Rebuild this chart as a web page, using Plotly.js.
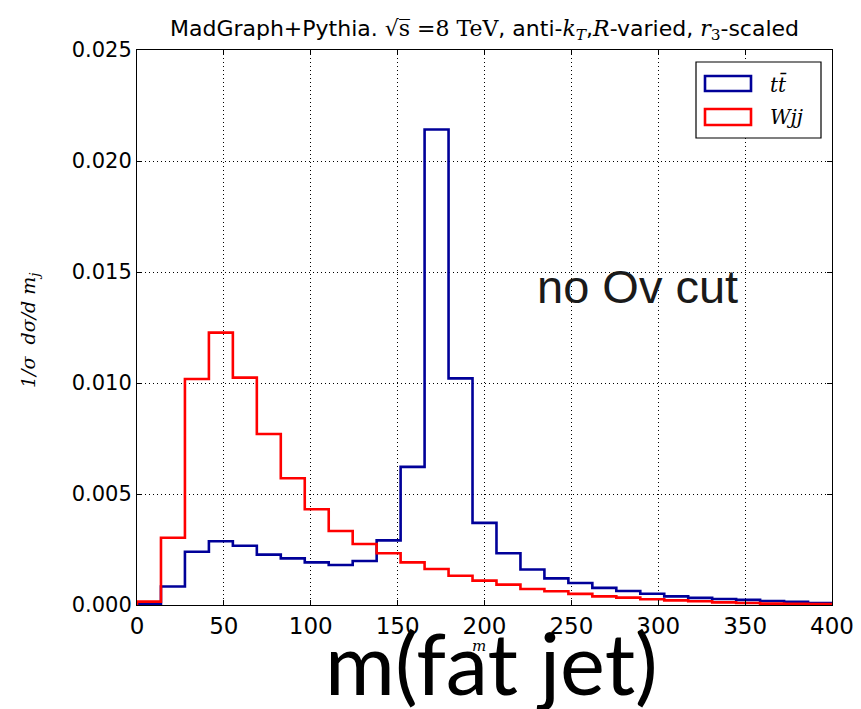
<!DOCTYPE html>
<html>
<head>
<meta charset="utf-8">
<script src="https://cdn.plot.ly/plotly-3.0.1.min.js"></script>
<style>html,body{margin:0;padding:0;background:#fff;}#chart{width:861px;height:709px;}</style>
</head>
<body>
<div id="chart"></div>
<script>
// Histogram binning of the fat-jet mass (GeV)
const massRange = [0, 400];
const nBins = 29;

// Normalised distributions (1/sigma dsigma/dm_j), one value per bin
const ttbarValues = [0.00005, 0.00083, 0.00240, 0.00287, 0.00267, 0.00227, 0.00210, 0.00192, 0.00180, 0.00198,
                     0.00291, 0.00622, 0.02142, 0.01021, 0.00370, 0.00233, 0.00160, 0.00120, 0.00099, 0.00077,
                     0.00063, 0.00051, 0.00039, 0.00032, 0.00027, 0.00023, 0.00018, 0.00014, 0.00009];
const wjjValues   = [0.00015, 0.00303, 0.01018, 0.01227, 0.01024, 0.00770, 0.00571, 0.00431, 0.00333, 0.00275,
                     0.00233, 0.00192, 0.00162, 0.00132, 0.00110, 0.00092, 0.00072, 0.00062, 0.00050, 0.00039,
                     0.00033, 0.00026, 0.00021, 0.00017, 0.00012, 0.00009, 0.00006, 0.00005, 0.00004];

const seriesNames = ['tt\u0304', 'Wjj'];
const xTickVals = [0, 50, 100, 150, 200, 250, 300, 350, 400];
const yTickVals = [0.000, 0.005, 0.010, 0.015, 0.020, 0.025];

const binEdges = [];
for (let i = 0; i <= nBins; i++) binEdges.push(massRange[0] + (massRange[1] - massRange[0]) * i / nBins);

function stepTrace(vals, color, name) {
  const x = [binEdges[0]], y = [0];
  for (let i = 0; i < vals.length; i++) { x.push(binEdges[i]); y.push(vals[i]); }
  x.push(binEdges[vals.length]); y.push(0);
  return {x: x, y: y, type: 'scatter', mode: 'lines', name: name,
          line: {shape: 'hv', color: color, width: 2.6}, showlegend: false, hoverinfo: 'skip'};
}

const BLUE = '#000099', RED = '#ff0000';
const data = [stepTrace(ttbarValues, BLUE, seriesNames[0]), stepTrace(wjjValues, RED, seriesNames[1])];

// plot area in pixels: left 137, right 832, top 50, bottom 605
const L = 137, R = 832, T = 50, B = 605;
const px = v => (v - L) / (R - L);
const py = v => (B - v) / (B - T);

const serif = 'DejaVu Serif, serif';
const sv = s => '<span style="font-family:\'DejaVu Serif\'">' + s + '</span>';
const layout = {
  width: 861, height: 709,
  margin: {l: L, r: 861 - R, t: T, b: 709 - B, pad: 0},
  paper_bgcolor: '#fff', plot_bgcolor: '#fff',
  font: {family: 'DejaVu Sans, sans-serif', color: '#000'},
  title: {
    text: 'MadGraph+Pythia. ' + sv('\u221As\u0305 =8 TeV') + ', anti-' + sv('<i>k</i><sub><i>T</i></sub>') + ',' + sv('<i>R</i>') + '-varied, ' + sv('<i>r</i><sub>3</sub>') + '-scaled',
    font: {size: 22, family: 'DejaVu Sans, sans-serif', color: '#000'},
    x: (L + R) / 2 / 861, xanchor: 'center', y: 1 - 28 / 709, yanchor: 'middle'
  },
  xaxis: {
    range: massRange, tickvals: xTickVals, ticktext: xTickVals.map(String),
    showline: true, linecolor: '#000', linewidth: 1, mirror: 'ticks',
    ticks: 'inside', ticklen: 5, tickcolor: '#000',
    showgrid: true, gridcolor: '#000', gridwidth: 1, griddash: '1px,3px',
    zeroline: false, tickfont: {size: 23, color: '#000'}
  },
  yaxis: {
    range: [0, 0.025], tickvals: yTickVals, ticktext: yTickVals.map(v => v.toFixed(3)),
    showline: true, linecolor: '#000', linewidth: 1, mirror: 'ticks',
    ticks: 'inside', ticklen: 5, tickcolor: '#000',
    showgrid: true, gridcolor: '#000', gridwidth: 1, griddash: '1px,3px',
    zeroline: false, tickfont: {size: 21, color: '#000'}
  },
  shapes: [
    {type: 'rect', xref: 'paper', yref: 'paper', x0: px(696), x1: px(821), y0: py(138), y1: py(62),
     line: {color: '#000', width: 1.2}, fillcolor: '#fff', layer: 'above'},
    {type: 'rect', xref: 'paper', yref: 'paper', x0: px(705), x1: px(751), y0: py(91), y1: py(76),
     line: {color: BLUE, width: 2.6}, fillcolor: 'rgba(0,0,0,0)', layer: 'above'},
    {type: 'rect', xref: 'paper', yref: 'paper', x0: px(705), x1: px(751), y0: py(125), y1: py(109),
     line: {color: RED, width: 2.6}, fillcolor: 'rgba(0,0,0,0)', layer: 'above'}
  ],
  annotations: [
    {xref: 'paper', yref: 'paper', x: px(768), y: py(84), xanchor: 'left', yanchor: 'middle', showarrow: false,
     text: '<i>' + seriesNames[0] + '</i>', font: {family: serif, size: 20, color: '#000'}},
    {xref: 'paper', yref: 'paper', x: px(768), y: py(117), xanchor: 'left', yanchor: 'middle', showarrow: false,
     text: '<i>' + seriesNames[1] + '</i>', font: {family: serif, size: 20, color: '#000'}},
    {xref: 'paper', yref: 'paper', x: px(637), y: py(286), xanchor: 'center', yanchor: 'middle', showarrow: false,
     text: 'no Ov cut', font: {family: 'Liberation Sans, Arial, sans-serif', size: 47, color: '#1a1a1a'}},
    {xref: 'paper', yref: 'paper', x: px(30), y: py(331), xanchor: 'center', yanchor: 'middle', showarrow: false,
     textangle: -90, text: '<i>1/\u03C3</i>  <i>d\u03C3/d m<sub>j</sub></i>', font: {family: serif, size: 19, color: '#000'}},
    {xref: 'paper', yref: 'paper', x: px(479), y: py(646), xanchor: 'center', yanchor: 'middle', showarrow: false,
     text: '<i>m</i>', font: {family: serif, size: 15, color: '#000'}},
    {xref: 'paper', yref: 'paper', x: px(491), y: py(662), xanchor: 'center', yanchor: 'middle', showarrow: false,
     text: 'm(fat jet)', font: {family: 'Lato, sans-serif', size: 85, color: '#000'}}
  ]
};

Plotly.newPlot('chart', data, layout, {displayModeBar: false, staticPlot: true});
</script>
</body>
</html>
